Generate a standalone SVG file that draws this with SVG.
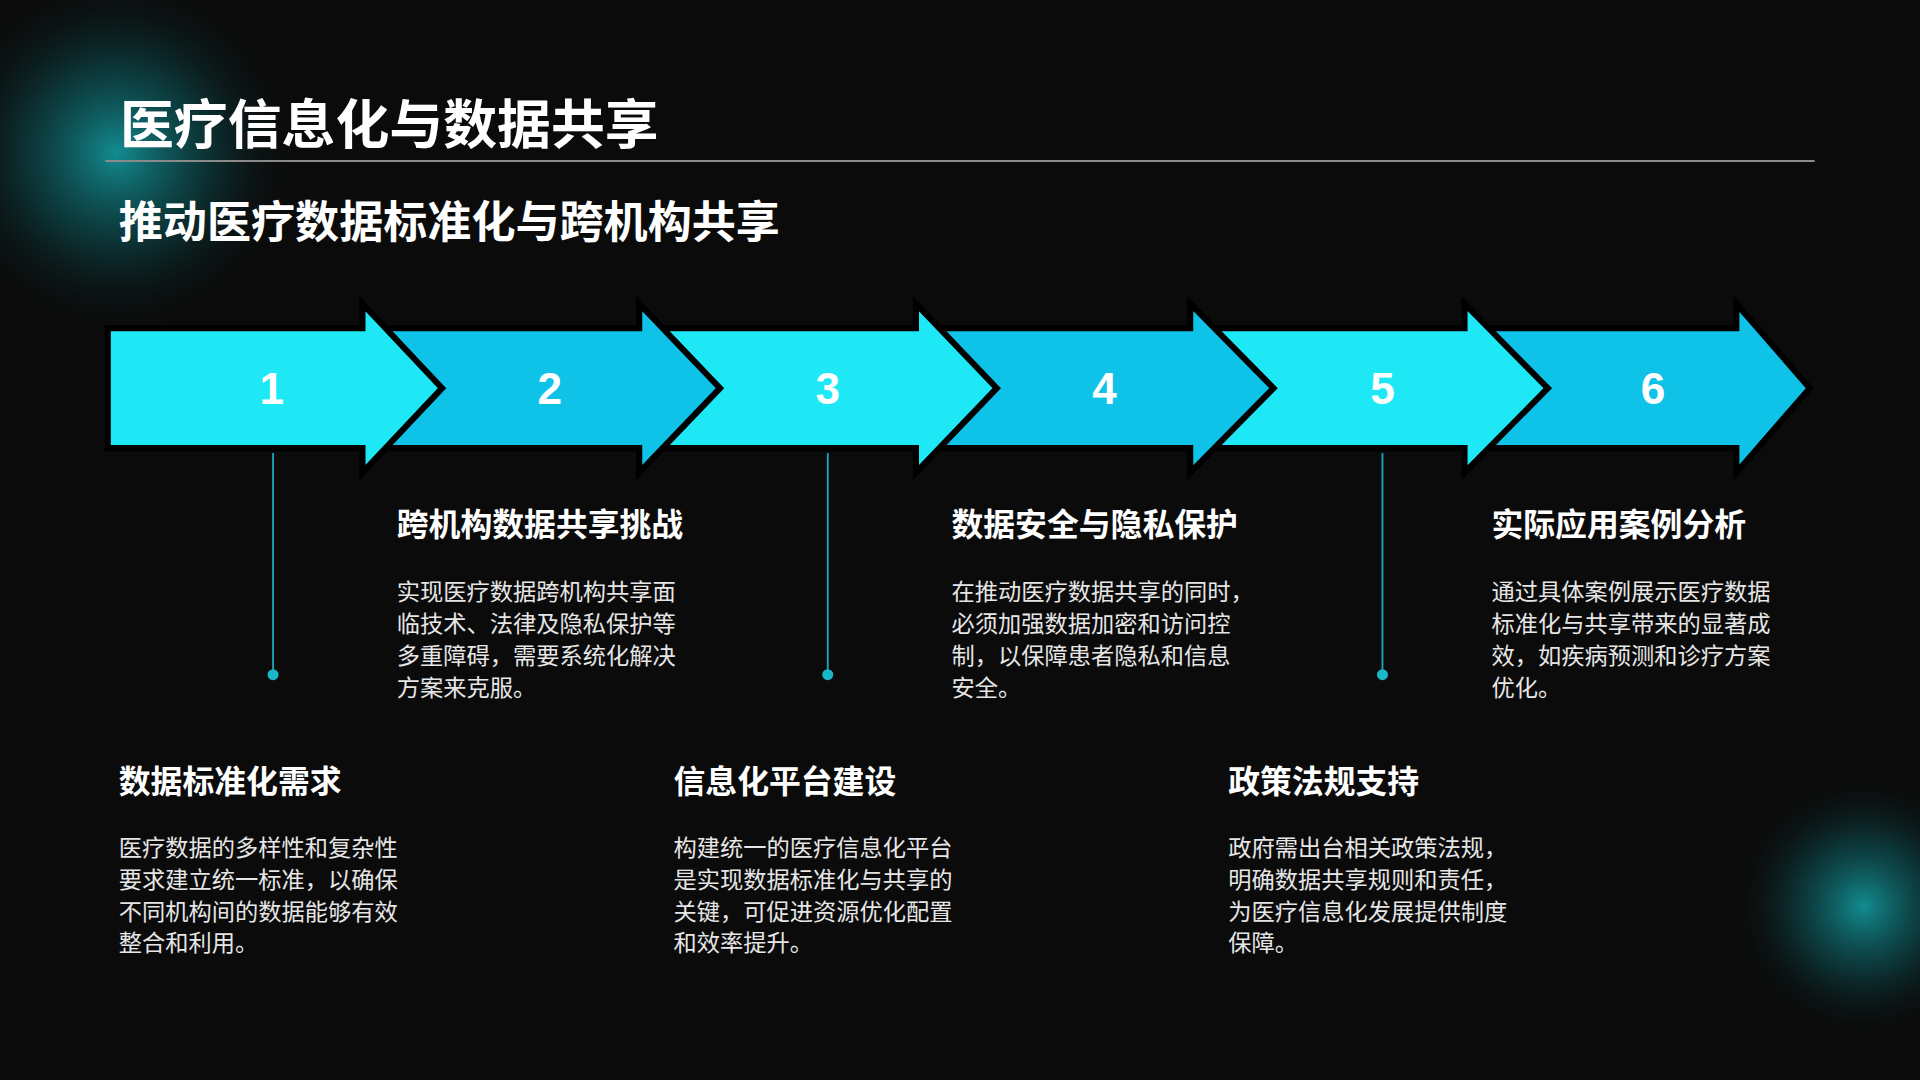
<svg xmlns="http://www.w3.org/2000/svg" width="1920" height="1080" viewBox="0 0 1920 1080">
<defs>
<radialGradient id="glow"><stop offset="0" stop-color="#14a3a8" stop-opacity="0.85"/><stop offset="0.5" stop-color="#0d6b70" stop-opacity="0.4"/><stop offset="1" stop-color="#0b0b0b" stop-opacity="0"/></radialGradient>
<style>
.t{font-family:"Noto Sans CJK SC","Liberation Sans",sans-serif;fill:#fff}
.h{font-size:26px;font-weight:bold}
.b{font-size:19px;fill:#e6e6e6}
.n{font-family:"Liberation Sans",sans-serif;font-weight:bold;font-size:36px;fill:#fff;text-anchor:middle}
.a{stroke:#000;stroke-width:5;stroke-linejoin:miter}
.c1{fill:#1ee8f6}.c2{fill:#0fc3e8}
.ln{stroke:#19a7b7;stroke-width:1.5}
.dt{fill:#19b7c7}
</style>
</defs>
<rect width="1920" height="1080" fill="#0b0b0b"/>
<g transform="scale(1.22449)">
<circle cx="95" cy="125" r="150" fill="url(#glow)"/>
<circle cx="1522" cy="740" r="110" fill="url(#glow)"/>
<text class="t" x="98" y="118" font-size="44" font-weight="bold">医疗信息化与数据共享</text>
<line x1="86" y1="131.5" x2="1482" y2="131.5" stroke="#8a8a8a" stroke-width="1.5"/>
<text class="t" x="97" y="194" font-size="36" font-weight="bold">推动医疗数据标准化与跨机构共享</text>
<g id="arrows">
<g id="arrow6"><path class="a c2" d="M1208 268H1418V248L1478 317L1418 386V366H1208Z"/><text class="n" x="1350" y="330">6</text></g>
<g id="arrow5"><path class="a c1" d="M984 268H1196V248L1264 317L1196 386V366H984Z"/><text class="n" x="1129" y="330">5</text></g>
<g id="arrow4"><path class="a c2" d="M760 268H972V248L1040 317L972 386V366H760Z"/><text class="n" x="902" y="330">4</text></g>
<g id="arrow3"><path class="a c1" d="M536 268H748V248L814 317L748 386V366H536Z"/><text class="n" x="676" y="330">3</text></g>
<g id="arrow2"><path class="a c2" d="M310 268H522V248L588 317L522 386V366H310Z"/><text class="n" x="449" y="330">2</text></g>
<g id="arrow1"><path class="a c1" d="M88 268H296V248L361 317L296 386V366H88Z"/><text class="n" x="222" y="330">1</text></g>
</g>
<g id="connectors">
<line class="ln" x1="223" y1="370" x2="223" y2="551"/><circle class="dt" cx="223" cy="551" r="4.5"/>
<line class="ln" x1="676" y1="370" x2="676" y2="551"/><circle class="dt" cx="676" cy="551" r="4.5"/>
<line class="ln" x1="1129" y1="370" x2="1129" y2="551"/><circle class="dt" cx="1129" cy="551" r="4.5"/>
</g>
<g id="node1" class="t"><text class="t h" x="97" y="648">数据标准化需求</text><text class="t b" x="97" y="699">医疗数据的多样性和复杂性</text><text class="t b" x="97" y="725">要求建立统一标准，以确保</text><text class="t b" x="97" y="751">不同机构间的数据能够有效</text><text class="t b" x="97" y="777">整合和利用。</text></g>
<g id="node2"><text class="t h" x="324" y="438">跨机构数据共享挑战</text><text class="t b" x="324" y="490">实现医疗数据跨机构共享面</text><text class="t b" x="324" y="516">临技术、法律及隐私保护等</text><text class="t b" x="324" y="542">多重障碍，需要系统化解决</text><text class="t b" x="324" y="568">方案来克服。</text></g>
<g id="node3"><text class="t h" x="550" y="648">信息化平台建设</text><text class="t b" x="550" y="699">构建统一的医疗信息化平台</text><text class="t b" x="550" y="725">是实现数据标准化与共享的</text><text class="t b" x="550" y="751">关键，可促进资源优化配置</text><text class="t b" x="550" y="777">和效率提升。</text></g>
<g id="node4"><text class="t h" x="777" y="438">数据安全与隐私保护</text><text class="t b" x="777" y="490">在推动医疗数据共享的同时，</text><text class="t b" x="777" y="516">必须加强数据加密和访问控</text><text class="t b" x="777" y="542">制，以保障患者隐私和信息</text><text class="t b" x="777" y="568">安全。</text></g>
<g id="node5"><text class="t h" x="1003" y="648">政策法规支持</text><text class="t b" x="1003" y="699">政府需出台相关政策法规，</text><text class="t b" x="1003" y="725">明确数据共享规则和责任，</text><text class="t b" x="1003" y="751">为医疗信息化发展提供制度</text><text class="t b" x="1003" y="777">保障。</text></g>
<g id="node6"><text class="t h" x="1218" y="438">实际应用案例分析</text><text class="t b" x="1218" y="490">通过具体案例展示医疗数据</text><text class="t b" x="1218" y="516">标准化与共享带来的显著成</text><text class="t b" x="1218" y="542">效，如疾病预测和诊疗方案</text><text class="t b" x="1218" y="568">优化。</text></g>
</g>
</svg>
